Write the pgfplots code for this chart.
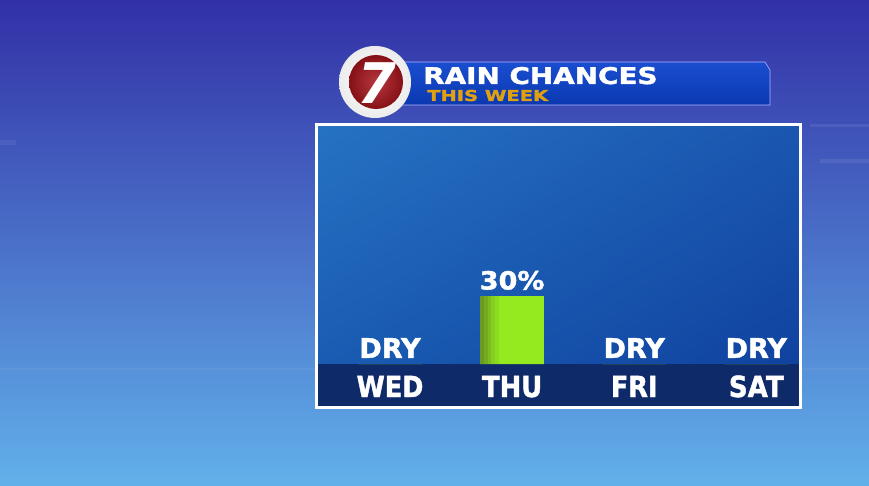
\documentclass[border=0pt]{standalone}
\usepackage{pgfplots}
\pgfplotsset{compat=1.18}
\usetikzlibrary{shadings}
\usepackage{fontspec}
\setmainfont{DejaVu Sans}[BoldFeatures={FakeBold=1.6}]
\usepackage{graphicx}

\definecolor{bgtop}{HTML}{3230A6}
\definecolor{bgmid}{HTML}{3A5CD6}
\definecolor{bgbot}{HTML}{62B0EA}
\definecolor{panelUL}{HTML}{2672C2}
\definecolor{panelUR}{HTML}{1A56B0}
\definecolor{panelLL}{HTML}{1858B0}
\definecolor{panelLR}{HTML}{0E3F9C}
\definecolor{band}{HTML}{0F2A68}
\definecolor{barA}{HTML}{6A9A22}
\definecolor{barB}{HTML}{72AA21}
\definecolor{barC}{HTML}{7CBC20}
\definecolor{barD}{HTML}{86CE1F}
\definecolor{barE}{HTML}{8EDC1F}
\definecolor{barlight}{HTML}{94EA1E}
\definecolor{gold}{HTML}{E0A010}
\definecolor{bannertop}{HTML}{1A4ED0}
\definecolor{bannerbot}{HTML}{0A38B0}
\definecolor{logored}{HTML}{A8141C}

\newcommand{\heavy}[1]{\bfseries\fontsize{#1}{#1}\selectfont}

\begin{document}
\begin{tikzpicture}
% background
\begin{scope}[x=1pt,y=1pt]
  \shade[top color=bgtop, middle color=bgmid, bottom color=bgbot] (0,0) rectangle (869,485);
  \fill[white, opacity=0.08] (810,358) rectangle (869,361);
  \fill[white, opacity=0.08] (820,322) rectangle (869,326);
  \fill[white, opacity=0.06] (0,340) rectangle (16,345);
  \fill[white, opacity=0.05] (0,115) rectangle (869,117);
\end{scope}

\begin{axis}[
  at={(318pt,79pt)}, anchor=south west,
  scale only axis, width=481pt, height=280pt,
  xmin=-0.59, xmax=3.35, ymin=-18.5, ymax=105,
  axis on top,
  axis line style={draw=none},
  axis background/.style={shade, upper left=panelUL, upper right=panelUR,
    lower left=panelLL, lower right=panelLR},
  ytick=\empty,
  xtick={0,1,2,3},
  xticklabels={\scalebox{0.88}[1]{WED},\scalebox{0.89}[1]{THU},
    \scalebox{0.88}[1]{FRI},\scalebox{0.9}[1]{SAT}},
  major tick length=0pt,
  xticklabel style={anchor=base, yshift=9pt, inner sep=0pt,
    font=\heavy{29}, text=white},
  ybar,
  clip=false,
]
\fill[band] (axis cs:-0.59,-18.5) rectangle (axis cs:3.35,0);
% rain chance, percent
\addplot[draw=none, fill=barlight, bar width=0.52, bar shift=0,
  nodes near coords, point meta=explicit symbolic,
  every node near coord/.append style={anchor=south, inner sep=0pt,
    yshift=6pt, text=white, font=\heavy{27}}]
  coordinates {(0,0)[DRY] (1,30)[{\fontsize{25}{25}\selectfont\scalebox{1.08}[1]{30\%}}] (2,0)[DRY] (3,0)[DRY]};
% darker left edge of the bar
\addplot[draw=none, fill=barE, bar width=0.03, bar shift=-0.125] coordinates {(1,30)};
\addplot[draw=none, fill=barD, bar width=0.03, bar shift=-0.155] coordinates {(1,30)};
\addplot[draw=none, fill=barC, bar width=0.03, bar shift=-0.185] coordinates {(1,30)};
\addplot[draw=none, fill=barB, bar width=0.03, bar shift=-0.215] coordinates {(1,30)};
\addplot[draw=none, fill=barA, bar width=0.03, bar shift=-0.245] coordinates {(1,30)};
\end{axis}

\begin{scope}[x=1pt,y=1pt]
  % panel border
  \draw[white, line width=3pt] (316.5,360.5) rectangle (800.5,77.5);
  % banner
  \shade[top color=bannertop, bottom color=bannerbot, draw=blue!30!white, line width=0.6pt]
    (400,423) -- (765,423) -- (770,415) -- (770,380) -- (400,380) -- cycle;
  \node[anchor=base west, inner sep=0pt, text=white] at (423,401)
    {\scalebox{1.21}[1]{\heavy{23}RAIN CHANCES}};
  \node[anchor=base west, inner sep=0pt, text=gold] at (427,384)
    {\scalebox{1.3}[1]{\heavy{15}THIS WEEK}};
  % logo
  \shade[inner color=white, outer color=gray!15] (375,403) circle (36);
  \shade[inner color=logored!85!white, outer color=logored!80!black] (376,403) circle (27);
  \node[text=white, inner sep=0pt] at (377,402) {\heavy{56}\itshape 7};
\end{scope}
\end{tikzpicture}
\end{document}
